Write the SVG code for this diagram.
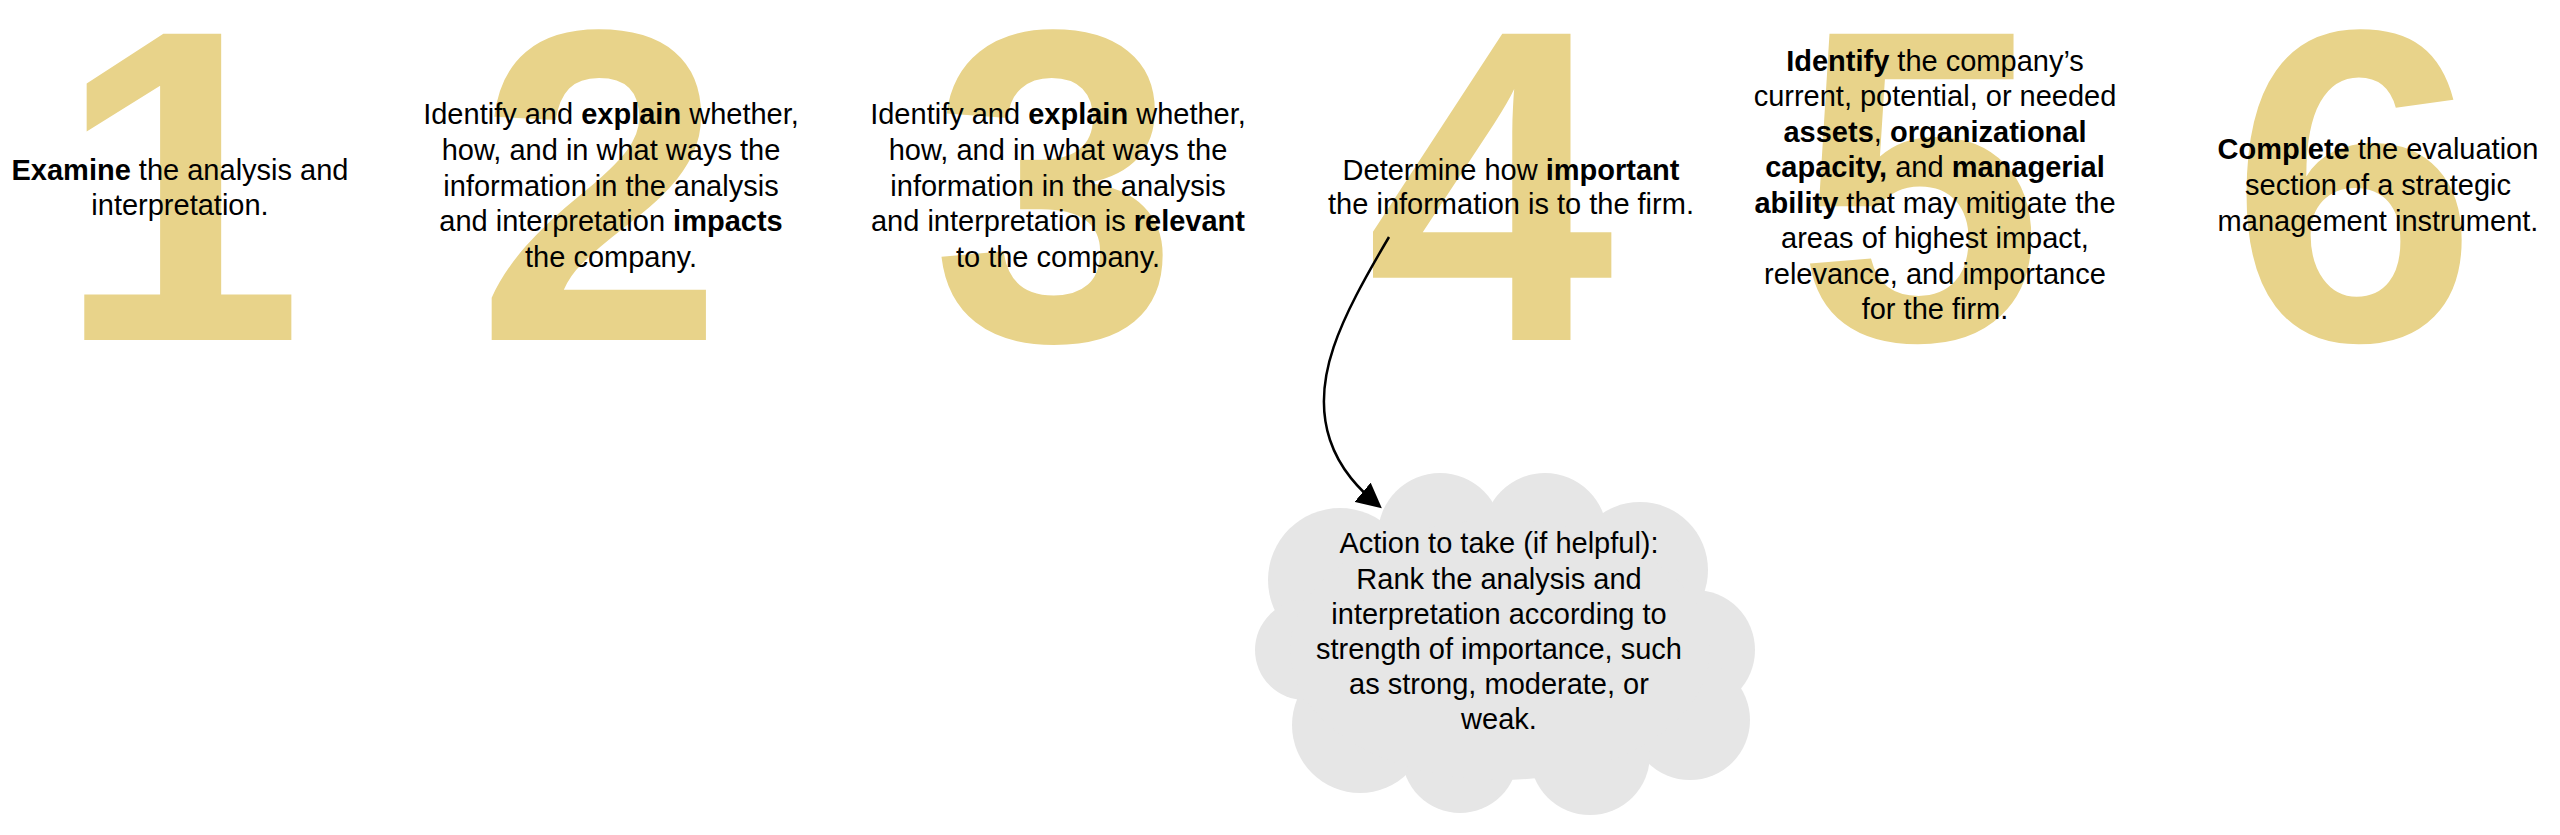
<svg xmlns="http://www.w3.org/2000/svg" width="2560" height="835" viewBox="0 0 2560 835">
<defs>
<style>
.d{font-family:"Liberation Sans",Arial,sans-serif;font-weight:bold;font-size:445px;fill:#E8D38A;text-anchor:middle}
.t{font-family:"Liberation Sans",Arial,sans-serif;font-size:29px;fill:#000;text-anchor:middle}
.t tspan.b{font-weight:bold}
.cl{fill:#E6E6E6}
</style>
<marker id="ah" markerWidth="10" markerHeight="10" refX="8" refY="5" orient="auto" markerUnits="strokeWidth"><path d="M0,0 L10,5 L0,10 z" fill="#000"/></marker>
</defs>
<rect width="2560" height="835" fill="#fff"/>
<g id="digits">
<text class="d" x="180" y="340">1</text>
<text class="d" x="600" y="340">2</text>
<text class="d" x="1055" y="340">3</text>
<text class="d" x="1490" y="340">4</text>
<text class="d" x="1920" y="340">5</text>
<text class="d" x="2354" y="340">6</text>
</g>
<g id="cloud">
<circle class="cl" cx="1340" cy="580" r="72"/>
<circle class="cl" cx="1440" cy="535" r="62"/>
<circle class="cl" cx="1545" cy="535" r="62"/>
<circle class="cl" cx="1640" cy="570" r="68"/>
<circle class="cl" cx="1695" cy="650" r="60"/>
<circle class="cl" cx="1690" cy="720" r="60"/>
<circle class="cl" cx="1590" cy="755" r="60"/>
<circle class="cl" cx="1460" cy="755" r="58"/>
<circle class="cl" cx="1360" cy="725" r="68"/>
<circle class="cl" cx="1305" cy="650" r="50"/>
<ellipse class="cl" cx="1500" cy="650" rx="210" ry="130"/>
<text class="t"><tspan x="1499" y="553">Action to take (if helpful):</tspan><tspan x="1499" y="589">Rank the analysis and</tspan><tspan x="1499" y="624">interpretation according to</tspan><tspan x="1499" y="659">strength of importance, such</tspan><tspan x="1499" y="694">as strong, moderate, or</tspan><tspan x="1499" y="729">weak.</tspan></text>
</g>
<g id="connectors">
<path d="M1389,237 C1340,320 1310,380 1330,440 C1340,470 1360,490 1378,505" fill="none" stroke="#000" stroke-width="2.5" marker-end="url(#ah)"/>
</g>
<g id="step1"><text class="t"><tspan x="180" y="180"><tspan class="b">Examine</tspan> the analysis and</tspan><tspan x="180" y="215">interpretation.</tspan></text></g>
<g id="step2"><text class="t"><tspan x="611" y="124">Identify and <tspan class="b">explain</tspan> whether,</tspan><tspan x="611" y="160">how, and in what ways the</tspan><tspan x="611" y="196">information in the analysis</tspan><tspan x="611" y="231">and interpretation <tspan class="b">impacts</tspan></tspan><tspan x="611" y="267">the company.</tspan></text></g>
<g id="step3"><text class="t"><tspan x="1058" y="124">Identify and <tspan class="b">explain</tspan> whether,</tspan><tspan x="1058" y="160">how, and in what ways the</tspan><tspan x="1058" y="196">information in the analysis</tspan><tspan x="1058" y="231">and interpretation is <tspan class="b">relevant</tspan></tspan><tspan x="1058" y="267">to the company.</tspan></text></g>
<g id="step4"><text class="t"><tspan x="1511" y="180">Determine how <tspan class="b">important</tspan></tspan><tspan x="1511" y="214">the information is to the firm.</tspan></text></g>
<g id="step5"><text class="t"><tspan x="1935" y="71"><tspan class="b">Identify</tspan> the company’s</tspan><tspan x="1935" y="106">current, potential, or needed</tspan><tspan x="1935" y="142"><tspan class="b">assets</tspan>, <tspan class="b">organizational</tspan></tspan><tspan x="1935" y="177"><tspan class="b">capacity,</tspan> and <tspan class="b">managerial</tspan></tspan><tspan x="1935" y="213"><tspan class="b">ability</tspan> that may mitigate the</tspan><tspan x="1935" y="248">areas of highest impact,</tspan><tspan x="1935" y="284">relevance, and importance</tspan><tspan x="1935" y="319">for the firm.</tspan></text></g>
<g id="step6"><text class="t"><tspan x="2378" y="159"><tspan class="b">Complete</tspan> the evaluation</tspan><tspan x="2378" y="195">section of a strategic</tspan><tspan x="2378" y="231">management instrument.</tspan></text></g>
</svg>
